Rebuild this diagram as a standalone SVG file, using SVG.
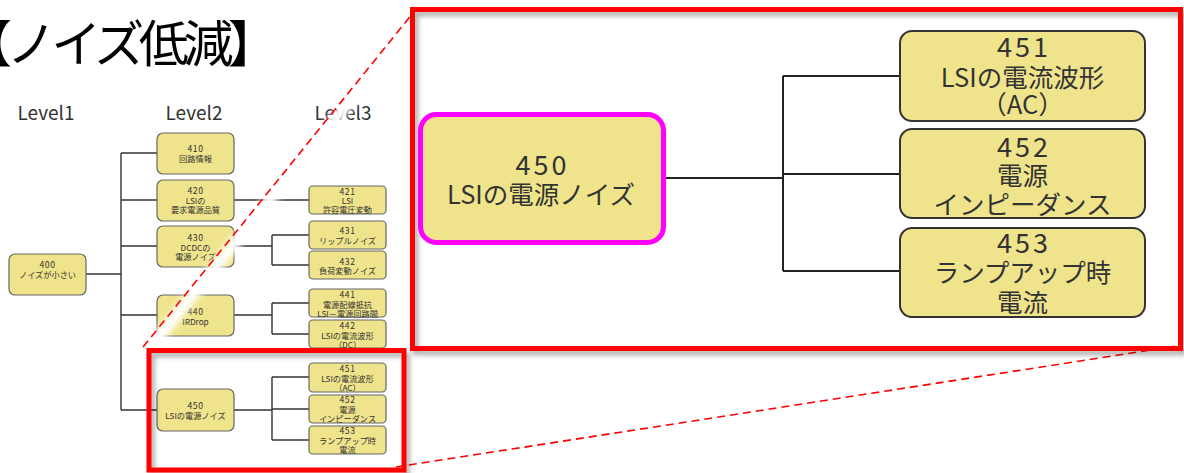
<svg xmlns="http://www.w3.org/2000/svg" width="1184" height="473" viewBox="0 0 1184 473">
<defs>
<style>
.t{font-family:"Noto Sans CJK JP","Noto Sans",sans-serif;fill:#333;text-anchor:middle}
.s{font-size:8.2px}
.sn2{font-size:8.6px;letter-spacing:0.6px}
.b{font-size:25.5px}
.bnum{font-size:27px;letter-spacing:3px}
.lv{font-family:"Noto Sans CJK JP","Noto Sans",sans-serif;fill:#333;font-size:19px;text-anchor:middle}
.sn{fill:#EFE48C;stroke:#666;stroke-width:1.2}
.bn{fill:#EFE48C;stroke:#333;stroke-width:2}
.c{fill:none;stroke:#333;stroke-width:1.4}
.cb{fill:none;stroke:#222;stroke-width:2}
.red{fill:none;stroke:#FF0000;stroke-width:5}
.dash{fill:none;stroke:#FF0000;stroke-width:1.6;stroke-dasharray:8 5}
</style>
<filter id="sh" x="-5%" y="-5%" width="110%" height="115%">
<feDropShadow dx="3" dy="4" stdDeviation="2.5" flood-color="#000" flood-opacity="0.35"/>
</filter>
<filter id="bl" x="-10%" y="-10%" width="120%" height="120%">
<feGaussianBlur stdDeviation="3"/>
</filter>
</defs>
<rect width="1184" height="473" fill="#fff"/>
<text x="-38" y="62" textLength="316" lengthAdjust="spacing" style="font-family:'Noto Sans CJK JP',sans-serif;font-size:50px;fill:#000">【ノイズ低減】</text>
<text class="lv" x="46" y="120">Level1</text>
<text class="lv" x="194" y="120">Level2</text>
<text class="lv" x="343" y="120">Level3</text>

<g id="connectors">
<path class="c" d="M86 274H121M121 153V410M121 153H157M121 200H157M121 246H157M121 315H157M121 410H157"/>
<path class="c" d="M234 200H309"/>
<path class="c" d="M234 246H272M272 235V265M272 235H309M272 265H309"/>
<path class="c" d="M234 315H272M272 303V334M272 303H309M272 334H309"/>
<path class="c" d="M234 410H272M272 377V440M272 377H309M272 409H309M272 440H309"/>
<path class="cb" d="M666 178H783M783 76V271M783 76H900M783 174H900M783 271H900"/>
</g>

<g id="n400"><rect class="sn" x="9" y="254" width="77" height="41" rx="6"/><text class="t sn2" x="47.5" y="268">400</text><text class="t s" x="47.5" y="278">ノイズが小さい</text></g>
<g id="n410"><rect class="sn" x="157" y="133" width="77" height="41" rx="6"/><text class="t sn2" x="195.5" y="152">410</text><text class="t s" x="195.5" y="162">回路情報</text></g>
<g id="n420"><rect class="sn" x="157" y="180" width="77" height="41" rx="6"/><text class="t sn2" x="195.5" y="194">420</text><text class="t s" x="195.5" y="203.5">LSIの</text><text class="t s" x="195.5" y="213">要求電源品質</text></g>
<g id="n430"><rect class="sn" x="157" y="226" width="77" height="41" rx="6"/><text class="t sn2" x="195.5" y="241">430</text><text class="t s" x="195.5" y="250.5">DCDCの</text><text class="t s" x="195.5" y="260">電源ノイズ</text></g>
<g id="n440"><rect class="sn" x="157" y="295" width="77" height="41" rx="6"/><text class="t sn2" x="195.5" y="315">440</text><text class="t s" x="195.5" y="325">IRDrop</text></g>
<g id="n450s"><rect class="sn" x="157" y="389" width="77" height="42" rx="6"/><text class="t sn2" x="195.5" y="409">450</text><text class="t s" x="195.5" y="419">LSIの電源ノイズ</text></g>

<g id="n421"><rect class="sn" x="309" y="186" width="77" height="28" rx="4"/><text class="t sn2" x="347.5" y="195">421</text><text class="t s" x="347.5" y="204">LSI</text><text class="t s" x="347.5" y="213">許容電圧変動</text></g>
<g id="n431"><rect class="sn" x="309" y="221" width="77" height="28" rx="4"/><text class="t sn2" x="347.5" y="234">431</text><text class="t s" x="347.5" y="244">リップルノイズ</text></g>
<g id="n432"><rect class="sn" x="309" y="251" width="77" height="28" rx="4"/><text class="t sn2" x="347.5" y="265">432</text><text class="t s" x="347.5" y="274">負荷変動ノイズ</text></g>
<g id="n441"><rect class="sn" x="309" y="289" width="77" height="28" rx="4"/><text class="t sn2" x="347.5" y="298">441</text><text class="t s" x="347.5" y="307.5">電源配線抵抗</text><text class="t s" x="347.5" y="317">LSI－電源回路間</text></g>
<g id="n442"><rect class="sn" x="309" y="320" width="77" height="28" rx="4"/><text class="t sn2" x="347.5" y="329">442</text><text class="t s" x="347.5" y="338.5">LSIの電流波形</text><text class="t s" x="347.5" y="348">（DC）</text></g>
<g id="n451s"><rect class="sn" x="309" y="363" width="77" height="29" rx="4"/><text class="t sn2" x="347.5" y="372">451</text><text class="t s" x="347.5" y="382">LSIの電流波形</text><text class="t s" x="347.5" y="391">（AC）</text></g>
<g id="n452s"><rect class="sn" x="309" y="395" width="77" height="28" rx="4"/><text class="t sn2" x="347.5" y="403">452</text><text class="t s" x="347.5" y="412.5">電源</text><text class="t s" x="347.5" y="422">インピーダンス</text></g>
<g id="n453s"><rect class="sn" x="309" y="426" width="77" height="28" rx="4"/><text class="t sn2" x="347.5" y="434">453</text><text class="t s" x="347.5" y="443.5">ランプアップ時</text><text class="t s" x="347.5" y="453">電流</text></g>

<g id="zoom-lines">
<line x1="148" y1="350" x2="422" y2="12" stroke="#fff" stroke-width="12" filter="url(#bl)"/>
<line x1="143" y1="347" x2="417" y2="8" class="dash"/>
<line x1="398" y1="470" x2="1183" y2="349" stroke="#fff" stroke-width="8" filter="url(#bl)"/>
<line x1="396" y1="467" x2="1183" y2="345" class="dash"/>
</g>

<rect class="red" x="149" y="350.5" width="255" height="119.5" filter="url(#sh)"/>
<rect class="red" x="412.5" y="9.5" width="768" height="339" filter="url(#sh)"/>

<g id="n450"><rect x="420.5" y="114.5" width="243" height="128" rx="16" fill="#EFE48C" stroke="#FF00FF" stroke-width="5"/><text class="t bnum" x="542.5" y="175">450</text><text class="t b" x="541" y="204">LSIの電源ノイズ</text></g>
<g id="n451"><rect class="bn" x="900" y="31" width="245" height="90" rx="12"/><text class="t bnum" x="1024" y="57">451</text><text class="t b" x="1022.5" y="87">LSIの電流波形</text><text class="t b" x="1022.5" y="114">（AC）</text></g>
<g id="n452"><rect class="bn" x="900" y="129" width="245" height="89" rx="12"/><text class="t bnum" x="1024" y="157">452</text><text class="t b" x="1022.5" y="185">電源</text><text class="t b" x="1022.5" y="214">インピーダンス</text></g>
<g id="n453"><rect class="bn" x="900" y="228" width="245" height="89" rx="12"/><text class="t bnum" x="1024" y="253">453</text><text class="t b" x="1022.5" y="282">ランプアップ時</text><text class="t b" x="1022.5" y="312">電流</text></g>
</svg>
